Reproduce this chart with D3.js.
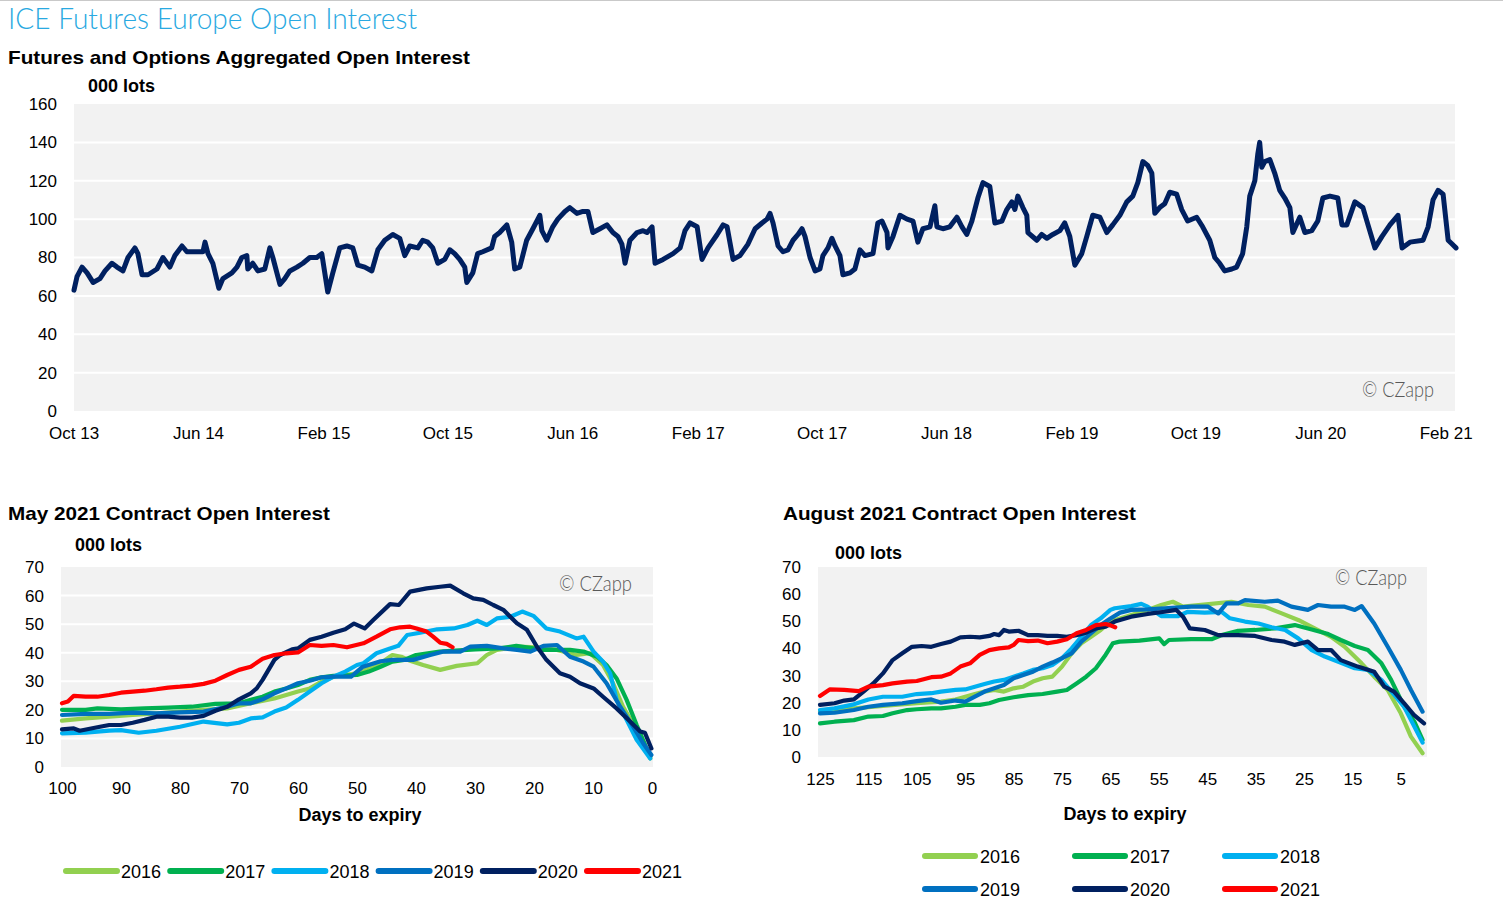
<!DOCTYPE html>
<html><head><meta charset="utf-8">
<script src="https://cdn.jsdelivr.net/npm/d3@7"></script>
<style>
body{margin:0;background:#fff;}
svg{display:block;}
</style></head><body>
<svg id="c" width="1503" height="906"></svg>
<script>
// ---------- DATA ----------
const topTickDates = ["2013-10-01","2014-06-01","2015-02-01","2015-10-01","2016-06-01","2017-02-01","2017-10-01","2018-06-01","2019-02-01","2019-10-01","2020-06-01","2021-02-01"];
const topTickLabels = ["Oct 13","Jun 14","Feb 15","Oct 15","Jun 16","Feb 17","Oct 17","Jun 18","Feb 19","Oct 19","Jun 20","Feb 21"];
const topYTicks = [0,20,40,60,80,100,120,140,160];
// [decimal year, thousand lots]
const aggOI = [
[2013.750,63],[2013.766,70],[2013.793,75],[2013.820,72],[2013.852,67],[2013.889,69],[2013.916,73],[2013.953,77],[2013.980,75],[2014.012,73],[2014.039,80],[2014.076,85],[2014.092,82],[2014.114,71],[2014.146,71],[2014.194,74],[2014.226,80],[2014.263,75],[2014.290,81],[2014.328,86],[2014.354,83],[2014.440,83],[2014.451,88],[2014.467,82],[2014.493,77],[2014.525,64],[2014.547,69],[2014.595,72],[2014.622,75],[2014.648,80],[2014.675,81],[2014.680,74],[2014.707,77],[2014.734,73],[2014.771,74],[2014.798,85],[2014.814,80],[2014.852,66],[2014.878,69],[2014.905,73],[2014.943,75],[2014.975,77],[2015.012,80],[2015.049,80],[2015.076,82],[2015.108,62],[2015.135,72],[2015.172,85],[2015.210,86],[2015.242,85],[2015.269,76],[2015.306,75],[2015.344,73],[2015.376,84],[2015.413,89],[2015.456,92],[2015.493,90],[2015.520,81],[2015.547,86],[2015.590,85],[2015.616,89],[2015.643,88],[2015.670,85],[2015.697,77],[2015.734,79],[2015.761,84],[2015.787,82],[2015.814,79],[2015.841,75],[2015.852,67],[2015.884,72],[2015.910,82],[2015.937,83],[2015.985,85],[2016.001,91],[2016.028,93],[2016.066,97],[2016.092,88],[2016.108,74],[2016.135,75],[2016.172,89],[2016.205,95],[2016.242,102],[2016.253,94],[2016.279,89],[2016.311,96],[2016.338,100],[2016.376,104],[2016.402,106],[2016.440,103],[2016.472,104],[2016.499,104],[2016.525,93],[2016.563,95],[2016.600,97],[2016.632,93],[2016.659,91],[2016.680,87],[2016.697,77],[2016.723,89],[2016.761,93],[2016.793,94],[2016.814,93],[2016.841,96],[2016.857,77],[2016.900,79],[2016.953,82],[2016.991,85],[2017.017,94],[2017.044,98],[2017.082,96],[2017.108,79],[2017.140,85],[2017.189,92],[2017.221,97],[2017.242,96],[2017.274,79],[2017.311,81],[2017.354,87],[2017.392,95],[2017.429,98],[2017.456,100],[2017.472,103],[2017.488,98],[2017.515,86],[2017.541,83],[2017.568,84],[2017.595,89],[2017.622,92],[2017.643,95],[2017.659,91],[2017.686,80],[2017.713,73],[2017.739,74],[2017.755,81],[2017.782,85],[2017.803,90],[2017.820,86],[2017.846,81],[2017.862,71],[2017.900,72],[2017.926,74],[2017.953,84],[2017.980,81],[2018.023,82],[2018.049,98],[2018.071,99],[2018.098,93],[2018.103,85],[2018.130,91],[2018.167,102],[2018.205,100],[2018.237,99],[2018.263,88],[2018.290,95],[2018.328,96],[2018.354,107],[2018.365,96],[2018.397,95],[2018.434,96],[2018.472,101],[2018.499,96],[2018.525,92],[2018.552,99],[2018.568,105],[2018.584,111],[2018.611,119],[2018.648,117],[2018.675,98],[2018.713,99],[2018.739,105],[2018.766,109],[2018.782,105],[2018.798,112],[2018.825,106],[2018.846,102],[2018.852,93],[2018.900,89],[2018.926,92],[2018.953,90],[2018.985,92],[2019.023,94],[2019.049,98],[2019.076,91],[2019.103,76],[2019.140,82],[2019.167,91],[2019.199,102],[2019.237,101],[2019.274,93],[2019.306,97],[2019.344,102],[2019.381,109],[2019.413,112],[2019.440,119],[2019.467,130],[2019.493,128],[2019.515,124],[2019.531,103],[2019.557,106],[2019.584,108],[2019.611,114],[2019.648,113],[2019.675,105],[2019.707,99],[2019.755,101],[2019.787,96],[2019.825,89],[2019.852,80],[2019.878,77],[2019.905,73],[2019.943,74],[2019.969,75],[2020.001,82],[2020.023,96],[2020.039,112],[2020.066,120],[2020.082,134],[2020.092,140],[2020.103,127],[2020.119,130],[2020.146,131],[2020.172,124],[2020.199,115],[2020.226,111],[2020.253,106],[2020.269,93],[2020.306,101],[2020.333,93],[2020.370,94],[2020.402,99],[2020.429,111],[2020.467,112],[2020.509,111],[2020.531,97],[2020.557,97],[2020.600,109],[2020.643,106],[2020.670,97],[2020.707,85],[2020.745,91],[2020.787,97],[2020.830,102],[2020.852,85],[2020.894,88],[2020.964,89],[2020.991,96],[2021.017,110],[2021.044,115],[2021.071,113],[2021.098,89],[2021.119,87],[2021.140,85]
];

const years = ["2016","2017","2018","2019","2020","2021"];
const yearColors = ["#92D050","#00B050","#00B0F0","#0070C0","#002060","#FF0000"];

const mayXTicks = [100,90,80,70,60,50,40,30,20,10,0];
const augXTicks = [125,115,105,95,85,75,65,55,45,35,25,15,5];
const smallYTicks = [0,10,20,30,40,50,60,70];

// May 2021 contract: [days to expiry, thousand lots]
const may2016 = [[100,16.2],[96,17.0],[92,17.6],[88,18.2],[84,18.8],[80,19.4],[76,20.0],[72,20.5],[68,22.3],[64,24.0],[60,26.4],[58,27.5],[56,29.9],[54,31.6],[50,32.8],[48,34.5],[46,36.3],[44,39.2],[42.5,38.6],[41,37.2],[38.8,35.7],[35.9,34.0],[33.1,35.4],[29.6,36.3],[28,39.2],[26.3,41.0],[22.9,42.1],[19.5,41.9],[16.1,41.0],[12.8,39.2],[10.5,39.8],[8.3,35.7],[6.6,29.3],[4.9,21.1],[2.6,12.9],[0.3,3.0]];
const may2017 = [[100,20.0],[96,20.0],[94,20.5],[90,20.2],[86,20.5],[82,20.8],[78,21.1],[74,22.1],[70,22.3],[68,23.5],[66,24.6],[64,26.4],[62,27.5],[60,28.7],[58,30.5],[56,31.4],[54,31.9],[50,32.2],[48,33.4],[46,35.1],[44,36.9],[42,37.5],[40,39.2],[36,40.4],[30,41.2],[26,41.5],[23,42.4],[18.4,41.0],[13.9,41.0],[11.6,40.4],[9.3,38.6],[7.7,35.7],[6,31.0],[4.3,23.5],[2.6,14.7],[0.3,3.6]];
const may2018 = [[100,11.8],[96,12.0],[92,12.7],[90,12.9],[87,12.0],[84,12.7],[80,14.1],[76,15.9],[72,14.9],[70,15.5],[68,17.0],[66,17.4],[64,19.4],[62,20.8],[60,23.5],[58,26.4],[56,29.3],[54,31.6],[52,33.4],[50,35.7],[48.9,36.3],[46.7,39.8],[44.4,41.5],[43,42.4],[41.5,46.2],[39.3,47.0],[36.4,48.2],[33.6,48.5],[31.3,49.7],[29.6,51.2],[28,49.7],[26.3,52.0],[24,52.6],[22,54.4],[20.1,52.9],[17.9,48.5],[15.6,47.4],[12.8,45.0],[11.6,45.6],[9.9,40.4],[8.3,36.9],[7.1,32.8],[6,23.5],[4.3,16.5],[2.6,9.5],[0.3,3.0]];
const may2019 = [[100,18.2],[96,18.6],[92,18.6],[88,19.0],[84,18.8],[80,19.1],[76,19.4],[72,21.1],[70,22.3],[68,22.3],[66,23.7],[64,25.8],[62,27.5],[60,29.3],[58,30.2],[56,31.4],[54,31.6],[51,31.6],[49,35.1],[46,37.0],[44,37.5],[40.5,37.5],[37.6,39.2],[35.3,40.4],[32.5,40.4],[30.8,42.1],[28,42.4],[25.2,41.5],[22.9,41.0],[20.6,40.4],[18.4,42.4],[16.1,42.7],[13.9,38.6],[11.6,36.9],[9.9,35.1],[7.7,29.3],[5.4,21.1],[3.2,14.1],[1.5,8.3],[0.1,4.2]];
const may2020 = [[100,13.2],[98,13.5],[97,12.7],[94,13.9],[92,14.7],[90,14.7],[88,15.5],[86,16.5],[84,17.6],[82,17.6],[80,17.3],[78,17.3],[76,17.9],[74,19.7],[72,21.1],[70,23.7],[68,25.8],[67,27.5],[66,30.5],[65,34.0],[64,37.5],[63,39.2],[61,41.2],[60,41.5],[58,44.5],[56,45.6],[54,47.0],[52,48.2],[50.5,50.2],[48.7,48.5],[47.2,51.5],[44.4,57.0],[42.9,56.7],[41,61.4],[38.2,62.5],[35.9,63.1],[34.2,63.5],[32,60.8],[30.3,59.0],[28.6,58.5],[26.9,56.7],[25.2,55.0],[22.9,50.3],[21.2,48.0],[19.5,42.1],[17.9,37.5],[15.6,32.8],[13.9,31.6],[12.2,29.3],[9.9,27.5],[8.3,24.6],[6,20.5],[3.7,15.9],[2,12.4],[1.2,12.0],[0.1,6.5]];
const may2021 = [[100,22.3],[99,22.9],[98,24.9],[96,24.6],[94,24.6],[92,25.2],[90,26.0],[88,26.4],[86,26.7],[84,27.2],[82,27.8],[80,28.1],[78,28.5],[76,29.1],[74,30.2],[72,32.2],[70,34.0],[68,35.1],[66,37.9],[64,39.2],[62,39.8],[60,40.1],[58,42.7],[56,42.4],[54,42.7],[51.7,41.9],[48.9,43.3],[46.7,45.6],[44.4,48.2],[42.7,48.9],[41,49.1],[39.9,48.5],[38.2,47.4],[37.1,45.6],[35.9,43.5],[34.8,43.1],[33.8,41.9]];

// August 2021 contract
const aug2016 = [[125,16.7],[118,17.9],[112,18.8],[105,19.8],[100,20.4],[97,21.2],[95,22.2],[93,23.2],[91,24.1],[89,24.7],[87,24.1],[85,25.3],[83,25.9],[81,27.8],[79,29.0],[77,29.6],[75,33.3],[73,38.2],[71,41.9],[69,44.3],[67,46.8],[65,49.9],[60.7,52.3],[57.3,54.2],[54.5,56.0],[52.1,57.2],[50,55.4],[45.2,56.2],[40,57.2],[36.5,56.0],[33.1,55.4],[29.6,52.9],[26.2,50.5],[22.8,47.4],[19.4,44.3],[16.6,40.6],[13.1,34.5],[10.5,29.6],[7.7,24.7],[5,16.1],[2.9,7.5],[0.5,1.4]];
const aug2017 = [[125,12.4],[122,13.0],[118,13.6],[115,14.9],[112,15.1],[110,16.1],[107,17.3],[105,17.6],[102,17.9],[100,17.9],[97,18.5],[95,19.2],[92,19.2],[90,19.8],[88,21.0],[85,22.0],[82,22.8],[79,23.2],[76,24.1],[74,24.7],[72,27.1],[70,29.6],[68,32.7],[66,37.6],[64.5,41.9],[63.1,42.5],[59,42.9],[54.9,43.7],[53.9,41.6],[52.9,43.1],[48.3,43.4],[44.1,43.4],[42,44.9],[38.6,46.5],[35.1,46.8],[31,47.4],[26.9,48.6],[23.4,47.0],[20,45.3],[17.4,43.1],[14.5,40.9],[11.8,39.4],[9,34.5],[7,28.4],[4.3,18.5],[2.2,13.0],[0.5,6.3]];
const aug2018 = [[125,17.3],[122,17.9],[118,19.4],[115,21.2],[112,22.2],[108,22.2],[105,23.2],[102,23.5],[100,24.1],[97,24.7],[95,24.9],[93,25.9],[91,26.9],[89,27.8],[87,28.4],[85,29.6],[83,30.8],[81,32.1],[79,32.7],[77,33.9],[75,36.4],[73,40.0],[71,44.3],[69,48.6],[67,51.1],[65,54.2],[64.1,54.8],[60.7,55.6],[58.6,56.4],[57.3,55.4],[54.5,51.9],[51,51.9],[49,53.5],[45.5,53.2],[42,53.5],[40.3,51.1],[37.2,49.9],[34.4,49.2],[31.7,47.8],[28.9,46.8],[26.2,43.7],[23.4,39.4],[20.7,37.0],[17.9,35.1],[14.5,32.7],[11.8,32.1],[9,28.4],[6.3,22.8],[4.3,18.5],[2.2,11.2],[0.5,5.3]];
const aug2019 = [[125,16.1],[122,16.3],[118,17.3],[115,18.5],[112,19.2],[108,19.8],[105,20.6],[102,21.2],[100,20.0],[97,20.8],[95,20.4],[93,22.2],[91,24.1],[89,25.3],[87,26.5],[85,29.0],[83,30.2],[81,31.4],[79,33.3],[77,34.8],[75,36.4],[73,38.2],[71,42.5],[69,45.6],[67,48.6],[65,51.0],[63,53.2],[60.7,54.2],[57.3,54.4],[53.8,54.8],[48.3,55.4],[44.8,55.4],[42.7,52.9],[41,56.6],[38.6,56.6],[37.2,57.8],[33.1,57.2],[30.4,57.6],[27.6,55.4],[24.2,54.2],[22.1,56.0],[19.4,55.4],[16.6,55.4],[14.5,54.2],[13.1,55.6],[10.5,49.2],[7.7,40.6],[5,32.1],[2.9,24.7],[0.5,16.7]];
const aug2020 = [[125,19.2],[122,19.8],[120,20.8],[118,21.2],[116,24.1],[114,27.1],[112,30.8],[110,35.7],[108,38.2],[106,40.6],[104,40.9],[102,40.6],[100,41.6],[98,42.5],[96,44.1],[94,44.3],[92,44.1],[90,44.6],[89,45.3],[88,44.9],[87,46.8],[86,46.2],[84,46.5],[82,44.9],[80,44.9],[78,44.6],[76,44.6],[74,44.3],[72,44.9],[70,45.8],[68,47.4],[66,48.0],[64.1,49.9],[60.7,51.7],[57.3,52.7],[53.8,53.5],[51.4,54.2],[50,51.7],[48.6,47.4],[45.5,46.8],[42.7,44.9],[38.6,44.9],[35.1,44.6],[31.7,43.1],[29,42.5],[26.9,41.3],[24.2,42.5],[22.1,39.4],[19.4,39.4],[17.4,35.7],[13.9,33.3],[10.5,31.4],[8.4,25.9],[6.4,24.1],[4.3,19.8],[2.3,15.5],[0.2,12.4]];
const aug2021 = [[125,22.5],[123,24.9],[120,24.7],[117,24.3],[115,25.9],[112,26.5],[110,27.1],[107,27.8],[105,28.0],[102,29.4],[100,29.6],[98,30.8],[96,33.3],[94,34.5],[92,37.6],[90,39.4],[88,40.0],[86,40.4],[85,41.3],[84,43.1],[82,42.7],[80,42.9],[78,41.9],[76,42.5],[74,43.4],[72,45.6],[70,46.8],[68,48.6],[66,49.0],[65,48.5],[64,47.8]];

const maySeries = [may2016,may2017,may2018,may2019,may2020,may2021];
const augSeries = [aug2016,aug2017,aug2018,aug2019,aug2020,aug2021];

// ---------- HELPERS ----------
const SANS = "'Liberation Sans', Arial, sans-serif";
const LIGHT = "Lato, 'Open Sans', 'Noto Sans', sans-serif";
function fromDec(y){const yr=Math.floor(y);const a=new Date(yr,0,1),b=new Date(yr+1,0,1);return new Date(a.getTime()+(y-yr)*(b-a));}
const parseDay = d3.timeParse("%Y-%m-%d");

const svg = d3.select("#c");
svg.append("rect").attr("width",1503).attr("height",906).attr("fill","#fff");
svg.append("line").attr("x1",0).attr("x2",1503).attr("y1",0.5).attr("y2",0.5).attr("stroke","#c9c9c9").attr("stroke-width",1);

function txt(x,y,s,opt){
  const t = svg.append("text").attr("x",x).attr("y",y).text(s)
    .attr("font-family",opt.family||SANS).attr("font-size",opt.size||17)
    .attr("font-weight",opt.weight||"normal").attr("fill",opt.fill||"#000");
  if(opt.anchor) t.attr("text-anchor",opt.anchor);
  if(opt.len) t.attr("textLength",opt.len).attr("lengthAdjust","spacingAndGlyphs");
  return t;
}
function styleAxis(g){
  g.attr("font-family",SANS).attr("font-size",17);
  g.select(".domain").remove();
  g.selectAll(".tick line").remove();
  g.selectAll("text").attr("fill","#000");
}

// ---------- TITLES ----------
txt(8,28.5,"ICE Futures Europe Open Interest",{family:LIGHT,size:28.5,weight:300,fill:"#29A9E1",len:409});
txt(8,64,"Futures and Options Aggregated Open Interest",{size:19,weight:"bold",len:462});
txt(88,92,"000 lots",{size:17.5,weight:"bold",len:67});

// ---------- TOP CHART ----------
const xTop = d3.scaleTime().domain([fromDec(2013.75),fromDec(2021.14)]).range([74,1456]);
const yTop = d3.scaleLinear().domain([0,160]).range([411,104]);
svg.append("rect").attr("x",74).attr("y",104).attr("width",1381).attr("height",307).attr("fill","#F2F2F2");
svg.append("g").selectAll("line").data(topYTicks.filter(v=>v>0&&v<160)).join("line")
  .attr("x1",74).attr("x2",1455).attr("y1",d=>yTop(d)).attr("y2",d=>yTop(d))
  .attr("stroke","#fff").attr("stroke-width",2);
svg.append("g").attr("transform","translate(74,0)")
  .call(d3.axisLeft(yTop).tickValues(topYTicks).tickSize(0).tickPadding(17)).call(styleAxis);
svg.append("g").attr("transform","translate(0,411)")
  .call(d3.axisBottom(xTop).tickValues(topTickDates.map(parseDay)).tickFormat((d,i)=>topTickLabels[i]).tickSize(0).tickPadding(16)).call(styleAxis);
svg.append("path").datum(aggOI)
  .attr("d",d3.line().x(d=>xTop(fromDec(d[0]))).y(d=>yTop(d[1])))
  .attr("fill","none").attr("stroke","#002060").attr("stroke-width",5)
  .attr("stroke-linejoin","round").attr("stroke-linecap","round");
txt(1434,397,"© CZapp",{family:LIGHT,size:21,weight:300,fill:"#595959",anchor:"end",len:72});

// ---------- SMALL CHARTS ----------
function smallChart(cfg){
  const x = d3.scaleLinear().domain(cfg.xDom).range(cfg.xRange);
  const y = d3.scaleLinear().domain([0,70]).range([cfg.y0,567]);
  svg.append("rect").attr("x",cfg.bg[0]).attr("y",567).attr("width",cfg.bg[1]-cfg.bg[0]).attr("height",cfg.y0-567).attr("fill","#F2F2F2");
  if(cfg.grid){
    svg.append("g").selectAll("line").data(smallYTicks.filter(v=>v>0&&v<70)).join("line")
      .attr("x1",cfg.bg[0]).attr("x2",cfg.bg[1]).attr("y1",d=>y(d)).attr("y2",d=>y(d))
      .attr("stroke","#fff").attr("stroke-width",2);
  }
  svg.append("g").attr("transform",`translate(${cfg.bg[0]},0)`)
    .call(d3.axisLeft(y).tickValues(smallYTicks).tickSize(0).tickPadding(17)).call(styleAxis);
  svg.append("g").attr("transform",`translate(0,${cfg.y0})`)
    .call(d3.axisBottom(x).tickValues(cfg.xTicks).tickFormat(d3.format("d")).tickSize(0).tickPadding(cfg.xPad)).call(styleAxis);
  const line = d3.line().x(d=>x(d[0])).y(d=>y(d[1]));
  svg.append("g").selectAll("path").data(cfg.series).join("path")
    .attr("d",line).attr("fill","none").attr("stroke",(d,i)=>yearColors[i])
    .attr("stroke-width",4.2).attr("stroke-linejoin","round").attr("stroke-linecap","round");
}

txt(8,520,"May 2021 Contract Open Interest",{size:19,weight:"bold",len:322});
txt(75,551,"000 lots",{size:17.5,weight:"bold",len:67});
smallChart({xDom:[100,0],xRange:[62,652],y0:767,bg:[61,653],grid:true,xTicks:mayXTicks,xPad:15,series:maySeries});
txt(360,821,"Days to expiry",{size:18,weight:"bold",anchor:"middle",len:123});
txt(632,591,"© CZapp",{family:LIGHT,size:21,weight:300,fill:"#595959",anchor:"end",len:73});

txt(783,520,"August 2021 Contract Open Interest",{size:19,weight:"bold",len:353});
txt(835,559,"000 lots",{size:17.5,weight:"bold",len:67});
smallChart({xDom:[125,0],xRange:[820,1425],y0:757,bg:[818,1427],grid:false,xTicks:augXTicks,xPad:16,series:augSeries});
txt(1125,820,"Days to expiry",{size:18,weight:"bold",anchor:"middle",len:123});
txt(1407,585,"© CZapp",{family:LIGHT,size:21,weight:300,fill:"#595959",anchor:"end",len:72});

// ---------- LEGENDS ----------
const legL = svg.append("g").selectAll("g").data(years).join("g")
  .attr("transform",(d,i)=>`translate(${63+i*104.2},871)`);
legL.append("line").attr("x1",3).attr("x2",54).attr("y1",0).attr("y2",0)
  .attr("stroke",(d,i)=>yearColors[i]).attr("stroke-width",6).attr("stroke-linecap","round");
legL.append("text").attr("x",58).attr("y",6.5).text(d=>d)
  .attr("font-family",SANS).attr("font-size",18).attr("fill","#000");

const legR = svg.append("g").selectAll("g").data(years).join("g")
  .attr("transform",(d,i)=>`translate(${922+(i%3)*150},${856+Math.floor(i/3)*33})`);
legR.append("line").attr("x1",3).attr("x2",53).attr("y1",0).attr("y2",0)
  .attr("stroke",(d,i)=>yearColors[i]).attr("stroke-width",6).attr("stroke-linecap","round");
legR.append("text").attr("x",58).attr("y",6.5).text(d=>d)
  .attr("font-family",SANS).attr("font-size",18).attr("fill","#000");
</script>
</body></html>
